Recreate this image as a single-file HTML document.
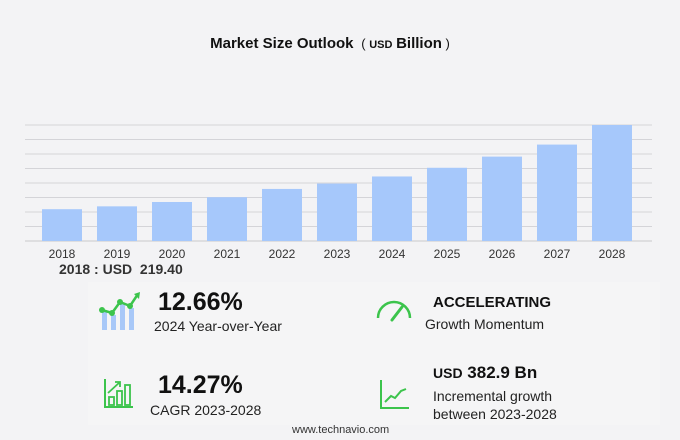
<!DOCTYPE html>
<html><head><meta charset="utf-8"><style>
body{margin:0;width:680px;height:440px;background:#f3f3f5;font-family:"Liberation Sans",sans-serif;position:relative;overflow:hidden}
.t{position:absolute;white-space:nowrap;color:#222}
</style></head><body>
<div class="t" style="left:0;width:660px;text-align:center;top:35px;font-size:15px;font-weight:bold;color:#111">Market Size Outlook <span style="font-weight:normal;font-size:13px">&nbsp;( <span style="font-size:11px;font-weight:bold">USD</span> <b style="font-size:15px">Billion</b> )</span></div>
<svg id="chart" width="680" height="270" style="position:absolute;left:0;top:0"></svg>
<div class="t" style="left:59px;top:261px;font-size:14px;font-weight:bold;color:#333">2018 : USD&nbsp; 219.40</div>
<div style="position:absolute;left:88px;top:282px;width:572px;height:143px;background:#f5f5f6"></div>
<svg width="50" height="50" style="position:absolute;left:98px;top:290px">
<rect x="4" y="20" width="5" height="20" fill="#a8c8f8"/><rect x="13" y="25" width="5" height="15" fill="#a8c8f8"/><rect x="22" y="14" width="5" height="26" fill="#a8c8f8"/><rect x="31" y="18" width="5" height="22" fill="#a8c8f8"/>
<polyline points="4,20 14,23 22,12 32,16 40,4" fill="none" stroke="#3cc44c" stroke-width="2.5"/>
<circle cx="4" cy="20" r="3" fill="#3cc44c"/><circle cx="14" cy="23" r="3" fill="#3cc44c"/><circle cx="22" cy="12" r="3" fill="#3cc44c"/><circle cx="32" cy="16" r="3" fill="#3cc44c"/><path d="M36,4 L42,2 L41,9Z" fill="#3cc44c"/></svg>
<div class="t" style="left:158px;top:288px;font-size:25px;font-weight:bold;color:#111">12.66%</div>
<div class="t" style="left:154px;top:318px;font-size:14px">2024 Year-over-Year</div>
<svg width="40" height="30" style="position:absolute;left:375px;top:296px">
<path d="M3,22 A16,16 0 0 1 35,22" fill="none" stroke="#3cc44c" stroke-width="2.5"/><line x1="17" y1="24" x2="27" y2="11" stroke="#3cc44c" stroke-width="3" stroke-linecap="round"/></svg>
<div class="t" style="left:433px;top:294px;font-size:15px;font-weight:bold;color:#111">ACCELERATING</div>
<div class="t" style="left:425px;top:316px;font-size:14px">Growth Momentum</div>
<svg width="34" height="34" style="position:absolute;left:103px;top:377px">
<path d="M2,2 V30 H30" fill="none" stroke="#3cc44c" stroke-width="2"/><rect x="6" y="20" width="5" height="8" fill="none" stroke="#3cc44c" stroke-width="1.8"/><rect x="14" y="14" width="5" height="14" fill="none" stroke="#3cc44c" stroke-width="1.8"/><rect x="22" y="8" width="5" height="20" fill="none" stroke="#3cc44c" stroke-width="1.8"/><path d="M5,16 L17,5 M12,5 H17 V10" fill="none" stroke="#3cc44c" stroke-width="1.8"/></svg>
<div class="t" style="left:158px;top:371px;font-size:25px;font-weight:bold;color:#111">14.27%</div>
<div class="t" style="left:150px;top:402px;font-size:14px">CAGR 2023-2028</div>
<svg width="34" height="34" style="position:absolute;left:379px;top:378px">
<path d="M2,2 V30 H30" fill="none" stroke="#3cc44c" stroke-width="2"/><polyline points="6,24 12,18 16,20 22,13 27,11" fill="none" stroke="#3cc44c" stroke-width="2"/></svg>
<div class="t" style="left:433px;top:363px;font-size:17px;font-weight:bold;color:#111"><span style="font-size:14px">USD</span> 382.9 Bn</div>
<div class="t" style="left:433px;top:387px;font-size:14px;line-height:18px">Incremental growth<br>between 2023-2028</div>
<div class="t" style="left:292px;top:424px;font-size:11px;color:#333">www.technavio.com</div>
<script>
const years=["2018","2019","2020","2021","2022","2023","2024","2025","2026","2027","2028"];
const values=[219.4,239,269,302,359,396,445,505,582,665,800];
const yTicks=[0,100,200,300,400,500,600,700,800];
const svg=document.getElementById('chart');const NS="http://www.w3.org/2000/svg";
const y0=241,y1=125,yMax=800,x0=62,step=55,bw=40;
const Y=v=>y0-(v/yMax)*(y0-y1);const X=i=>x0+i*step;
yTicks.forEach(t=>{const l=document.createElementNS(NS,'line');


l.setAttribute('x1',25);l.setAttribute('x2',652);l.setAttribute('y1',Y(t));l.setAttribute('y2',Y(t));l.setAttribute('stroke',t===0?'#c8c8cc':'#d4d4d8');l.setAttribute('stroke-width',1);svg.appendChild(l);});
years.forEach((yr,i)=>{const r=document.createElementNS(NS,'rect');


r.setAttribute('x',X(i)-bw/2);r.setAttribute('width',bw);r.setAttribute('y',Y(values[i]));r.setAttribute('height',y0-Y(values[i]));r.setAttribute('fill','#a6c8fb');svg.appendChild(r);
const t=document.createElementNS(NS,'text');


t.setAttribute('x',X(i));t.setAttribute('y',258);t.setAttribute('text-anchor','middle');t.setAttribute('font-size','12');t.setAttribute('fill','#333');t.textContent=yr;svg.appendChild(t);});
</script>
</body></html>
